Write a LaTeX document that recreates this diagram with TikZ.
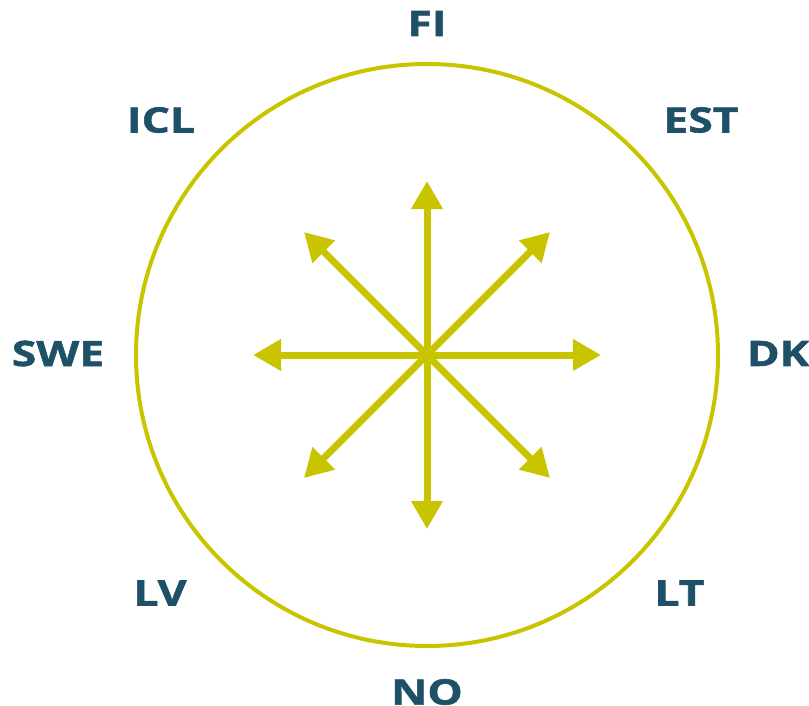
\documentclass[tikz,border=0pt]{standalone}
\usepackage{fontspec}
\IfFontExistsTF{Open Sans ExtraBold}
    {\setmainfont{Open Sans}[BoldFont={Open Sans ExtraBold}, BoldFeatures={FakeStretch=1.27}]}
    {\setmainfont{Open Sans}[BoldFeatures={FakeBold=1.5, FakeStretch=1.27}]}
\usetikzlibrary{arrows.meta, calc}

\definecolor{ringyellow}{HTML}{C8C400}
\definecolor{labelteal}{HTML}{1E5068}

\tikzset{
    country/.style={font=\fontsize{35}{38}\selectfont\bfseries, text=labelteal, inner sep=0pt},
    spoke/.style={ringyellow, line width=7pt, -{Triangle[length=28pt,width=30pt]}}
}

\begin{document}
\begin{tikzpicture}[x=1pt,y=-1pt]
        \useasboundingbox (0,0) rectangle (809,706);

        % outer ring
        \coordinate (c) at (427,355);
        \draw[ringyellow, line width=4pt] (c) circle[radius=291];

        % spokes
        \foreach \ang/\name in {0/e,45/se,90/s,135/sw,180/w,225/nw,270/n,315/ne}{
            \coordinate (tip-\name) at ($(c)+(\ang:174)$);
            \draw[spoke] (c) -- (tip-\name);
        }

        % country labels
        \node[country] (fi)  at (427,23.5) {FI};
        \node[country] (est) at (701,120)  {EST};
        \node[country] (dk)  at (778,353.5) {DK};
        \node[country] (lt)  at (679.5,593) {LT};
        \node[country] (no)  at (427,692)  {NO};
        \node[country] (lv)  at (160,593)  {LV};
        \node[country] (swe) at (58,353.5) {SWE};
        \node[country] (icl) at (161,120)  {ICL};
    \end{tikzpicture}
\end{document}
